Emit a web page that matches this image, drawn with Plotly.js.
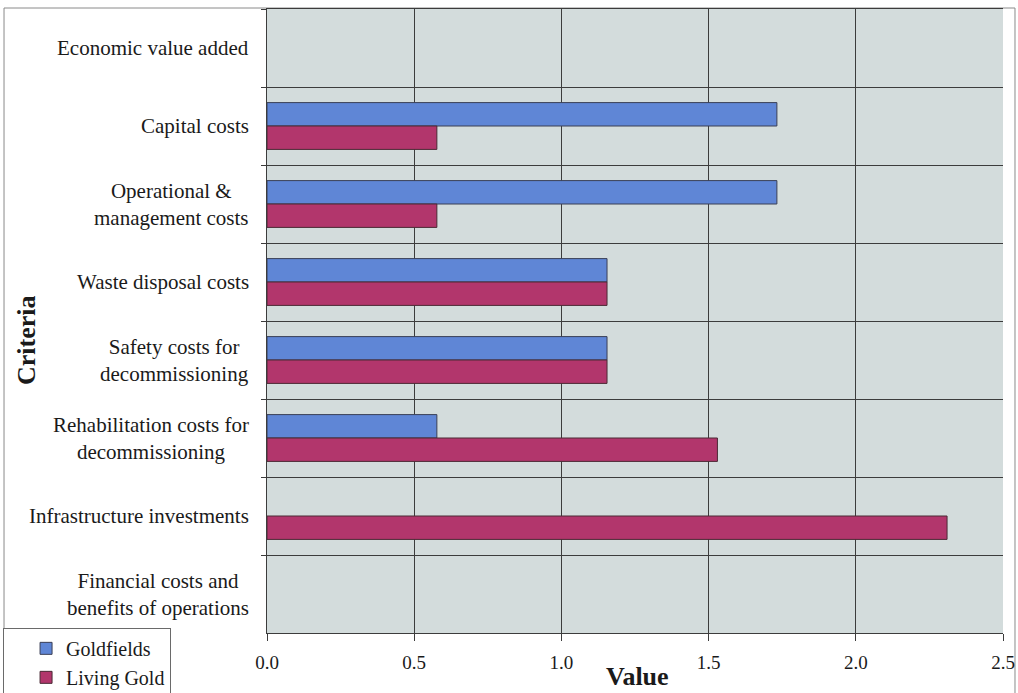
<!DOCTYPE html>
<html>
<head>
<meta charset="utf-8">
<script src="https://cdn.plot.ly/plotly-3.0.1.min.js"></script>
<style>
  html, body { margin: 0; padding: 0; background: #ffffff; }
  #chart { width: 1018px; height: 693px; }
</style>
</head>
<body>
<div id="chart"></div>
<script>
// Criteria, listed top to bottom
const criteria = [
  "Economic value added",
  "Capital costs",
  "Operational &<br>management costs",
  "Waste disposal costs",
  "Safety costs for<br>decommissioning",
  "Rehabilitation costs for<br>decommissioning",
  "Infrastructure investments",
  "Financial costs and<br>benefits of operations"
];

// null = no bar for that criterion
const goldfields = [null, 1.732, 1.732, 1.155, 1.155, 0.577, null, null];
const livingGold = [null, 0.577, 0.577, 1.155, 1.155, 1.53, 2.31, null];

const xTickValues = [0, 0.5, 1.0, 1.5, 2.0, 2.5];
const xTickLabels = ["0.0", "0.5", "1.0", "1.5", "2.0", "2.5"];

const serif = '"Liberation Serif", "Times New Roman", serif';

const traces = [
  {
    type: "bar", orientation: "h", name: "Goldfields",
    y: criteria, x: goldfields,
    marker: { color: "#5f86d6", line: { color: "#3a3f55", width: 1 } }
  },
  {
    type: "bar", orientation: "h", name: "Living Gold",
    y: criteria, x: livingGold,
    marker: { color: "#b2366c", line: { color: "#4a2a35", width: 1 } }
  }
];

// Category labels: right-aligned blocks with centred lines
const labelNotes = criteria.map(c => ({
  xref: "paper", yref: "y", x: -0.022, y: c,
  text: c, showarrow: false, xanchor: "right", align: "center",
  font: { family: serif, size: 21, color: "#1a1a1a" }
}));

const layout = {
  width: 1018, height: 693,
  margin: { l: 267, r: 15, t: 9, b: 60 },
  paper_bgcolor: "#ffffff",
  plot_bgcolor: "#d3dcdc",
  barmode: "group",
  bargap: 0.4,
  bargroupgap: 0,
  font: { family: serif, color: "#1a1a1a" },
  xaxis: {
    range: [0, 2.5],
    tickvals: xTickValues, ticktext: xTickLabels,
    tickfont: { family: serif, size: 19, color: "#1a1a1a" },
    ticklabelstandoff: 5,
    showgrid: true, gridcolor: "#3c3c3c", gridwidth: 1,
    zeroline: false,
    showline: true, linecolor: "#3c3c3c", linewidth: 1, mirror: true,
    ticks: "outside", ticklen: 7, tickcolor: "#3c3c3c"
  },
  yaxis: {
    type: "category",
    autorange: "reversed",
    tickson: "boundaries",
    showticklabels: false,
    showgrid: true, gridcolor: "#3c3c3c", gridwidth: 1,
    showline: true, linecolor: "#3c3c3c", linewidth: 1,
    ticks: "outside", ticklen: 5, tickcolor: "#3c3c3c"
  },
  legend: {
    xref: "container", yref: "container",
    x: 0.003, y: 0.094, xanchor: "left", yanchor: "top",
    bgcolor: "#ffffff", bordercolor: "#6a6a6a", borderwidth: 1,
    font: { family: serif, size: 20, color: "#1a1a1a" },
    indentation: 22,
    tracegroupgap: 0,
    traceorder: "normal"
  },
  annotations: labelNotes.concat([
    {
      xref: "paper", yref: "paper", x: 0.503, y: -0.069,
      text: "<b>Value</b>", showarrow: false,
      xanchor: "center", yanchor: "middle",
      font: { family: serif, size: 26, color: "#1a1a1a" }
    },
    {
      xref: "paper", yref: "paper", x: -0.327, y: 0.47,
      text: "<b>Criteria</b>", showarrow: false, textangle: -90,
      xanchor: "center", yanchor: "middle",
      font: { family: serif, size: 26, color: "#1a1a1a" }
    }
  ]),
  shapes: [
    // outer frame round the chart
    {
      type: "rect", xref: "paper", yref: "paper", layer: "below",
      x0: -0.3573, x1: 1.0163, y0: -0.12, y1: 1.0016,
      line: { color: "#8a8a8a", width: 1 }, fillcolor: "rgba(0,0,0,0)"
    }
  ]
};

Plotly.newPlot("chart", traces, layout, { displayModeBar: false, staticPlot: true });
</script>
</body>
</html>
